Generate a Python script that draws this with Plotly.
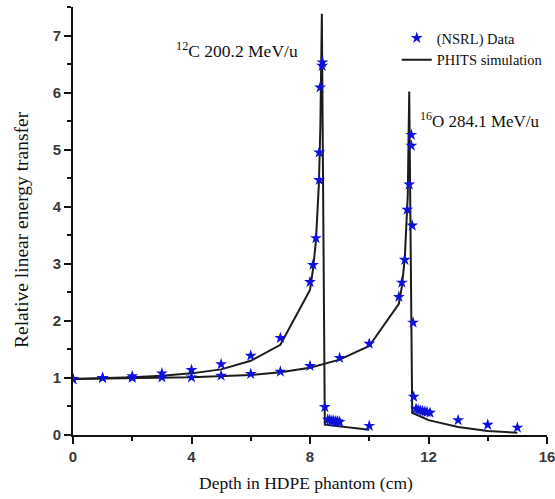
import plotly.graph_objects as go

# Simulation (PHITS) curves
c_sim_x = [0, 1, 2, 3, 4, 5, 6, 7, 8.0, 8.1, 8.2, 8.3, 8.35, 8.4, 8.5, 10.0]
c_sim_y = [0.98, 0.99, 1.01, 1.04, 1.08, 1.15, 1.30, 1.58, 2.54, 2.90, 3.40, 4.40, 5.40, 7.38, 0.18, 0.09]
o_sim_x = [0, 2, 4, 6, 7, 8, 9, 10, 11.0, 11.1, 11.2, 11.3, 11.35, 11.45, 12.0, 13.0, 14.0, 15.0]
o_sim_y = [0.98, 0.99, 1.01, 1.05, 1.10, 1.18, 1.32, 1.56, 2.30, 2.60, 3.10, 4.20, 6.02, 0.39, 0.26, 0.14, 0.07, 0.04]

# Measured (NSRL) data
c_dat_x = [0, 1, 2, 3, 4, 5, 6, 7, 8.0, 8.1, 8.2, 8.31, 8.31, 8.34, 8.41, 8.42,
           8.5, 8.6, 8.67, 8.74, 8.8, 8.87, 8.93, 9.0, 10.0]
c_dat_y = [0.98, 1.00, 1.03, 1.08, 1.14, 1.24, 1.39, 1.70, 2.68, 2.98, 3.45, 4.47, 4.95, 6.09, 6.47, 6.53,
           0.49, 0.27, 0.26, 0.25, 0.25, 0.24, 0.24, 0.23, 0.16]
o_dat_x = [0, 1, 2, 3, 4, 5, 6, 7, 8, 9, 10, 11.0, 11.1, 11.2, 11.28, 11.35, 11.42, 11.42, 11.45,
           11.48, 11.5, 11.58, 11.65, 11.72, 11.8, 11.88, 11.95, 12.05, 13.0, 14.0, 15.0]
o_dat_y = [0.98, 1.00, 1.00, 1.01, 1.01, 1.04, 1.07, 1.11, 1.21, 1.35, 1.60, 2.42, 2.67, 3.07, 3.95, 4.39, 5.07, 5.26, 3.67,
           1.97, 0.67, 0.46, 0.44, 0.43, 0.42, 0.41, 0.40, 0.39, 0.26, 0.18, 0.13]

x_ticks = [0, 4, 8, 12, 16]
y_ticks = [0, 1, 2, 3, 4, 5, 6, 7]

line_style = dict(color="#1c1c1c", width=2)
marker_style = dict(symbol="star", size=9, color="#1010dd", line=dict(width=0))

fig = go.Figure()
fig.add_trace(go.Scatter(x=c_sim_x, y=c_sim_y, mode="lines", line=line_style,
                         name="PHITS simulation", legendrank=2))
fig.add_trace(go.Scatter(x=o_sim_x, y=o_sim_y, mode="lines", line=line_style,
                         showlegend=False))
fig.add_trace(go.Scatter(x=c_dat_x, y=c_dat_y, mode="markers", marker=marker_style,
                         name="(NSRL) Data", legendrank=1))
fig.add_trace(go.Scatter(x=o_dat_x, y=o_dat_y, mode="markers", marker=marker_style,
                         showlegend=False))

serif = "Times New Roman, Liberation Serif, serif"
tickfont = dict(family="Arial, Liberation Sans, sans-serif", size=15, color="#3a3a3a", weight="bold")

fig.update_layout(
    width=555, height=499,
    margin=dict(l=73, r=8, t=7, b=64, autoexpand=False),
    paper_bgcolor="white", plot_bgcolor="white",
    showlegend=True,
    legend=dict(x=0.683, y=0.965, xanchor="left", yanchor="top",
                font=dict(family=serif, size=14.5, color="#111"),
                bgcolor="rgba(0,0,0,0)", tracegroupgap=0, itemwidth=30),
    xaxis=dict(range=[0, 16], tickvals=x_ticks, ticktext=[str(v) for v in x_ticks],
               showgrid=False, zeroline=False, showline=True, linecolor="#111", linewidth=2,
               ticks="outside", ticklen=7, tickwidth=2, tickcolor="#111",
               minor=dict(dtick=2, ticks="outside", ticklen=4, tickwidth=2, tickcolor="#111"),
               tickfont=tickfont, ticklabeloverflow="allow"),
    yaxis=dict(range=[0, 7.5], tickvals=y_ticks, ticktext=[str(v) for v in y_ticks],
               showgrid=False, zeroline=False, showline=True, linecolor="#111", linewidth=2,
               ticks="outside", ticklen=7, tickwidth=2, tickcolor="#111",
               minor=dict(dtick=0.5, ticks="outside", ticklen=4, tickwidth=2, tickcolor="#111"),
               tickfont=tickfont, ticklabeloverflow="allow"),
    annotations=[
        dict(x=(306 - 73) / 474, y=(435 - 483) / 428, xref="paper", yref="paper",
             xanchor="center", yanchor="middle", showarrow=False,
             text="Depth in HDPE phantom (cm)", font=dict(family=serif, size=17.5, color="#111")),
        dict(x=-73 / 474 + 22 / 474, y=(435 - 230) / 428, xref="paper", yref="paper",
             xanchor="center", yanchor="middle", textangle=-90, showarrow=False,
             text="Relative linear energy transfer", font=dict(family=serif, size=19.5, color="#111")),
        dict(x=3.4, y=6.75, xref="x", yref="y", xanchor="left", yanchor="middle", showarrow=False,
             text="<sup>12</sup>C 200.2 MeV/u", font=dict(family=serif, size=17.5, color="#111")),
        dict(x=11.65, y=5.52, xref="x", yref="y", xanchor="left", yanchor="middle", showarrow=False,
             text="<sup>16</sup>O 284.1 MeV/u", font=dict(family=serif, size=17, color="#111")),
    ],
)

fig.write_html("out.html", config={"displayModeBar": False},
               post_script="document.body.style.margin='0px';")
